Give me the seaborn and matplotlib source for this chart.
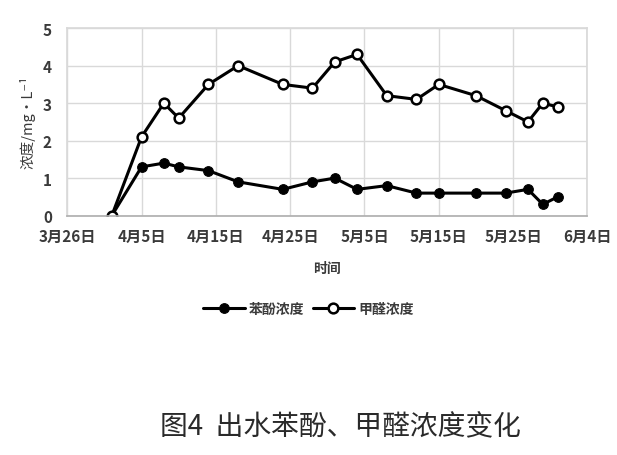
import matplotlib
matplotlib.use("Agg")
import matplotlib.pyplot as plt
import matplotlib.dates as mdates
from matplotlib.ticker import FuncFormatter
import seaborn as sns
import pandas as pd

dates = ["2019-04-01", "2019-04-05", "2019-04-08", "2019-04-10", "2019-04-14",
         "2019-04-18", "2019-04-24", "2019-04-28", "2019-05-01", "2019-05-04",
         "2019-05-08", "2019-05-12", "2019-05-15", "2019-05-20", "2019-05-24",
         "2019-05-27", "2019-05-29", "2019-05-31"]
phenol = [0, 1.3, 1.4, 1.3, 1.2, 0.9, 0.7, 0.9, 1.0, 0.7, 0.8, 0.6, 0.6, 0.6, 0.6, 0.7, 0.3, 0.5]
formaldehyde = [0, 2.1, 3.0, 2.6, 3.5, 4.0, 3.5, 3.4, 4.1, 4.3, 3.2, 3.1, 3.5, 3.2, 2.8, 2.5, 3.0, 2.9]
series_names = ["苯酚浓度", "甲醛浓度"]
yticks = [0, 1, 2, 3, 4, 5]

sns.set_theme(style="white")
plt.rcParams['font.family'] = ['Noto Sans CJK SC', 'DejaVu Sans']

df = pd.DataFrame({"date": pd.to_datetime(dates), "phenol": phenol, "formaldehyde": formaldehyde})

fig = plt.figure(figsize=(6.17, 4.56), dpi=100)
ax = fig.add_axes([0.109, 0.525, 0.843, 0.411])

sns.lineplot(data=df, x="date", y="phenol", ax=ax, color="black", linewidth=2.2,
             marker="o", markersize=7, markerfacecolor="black", markeredgecolor="black",
             label=series_names[0])
sns.lineplot(data=df, x="date", y="formaldehyde", ax=ax, color="black", linewidth=2.2,
             marker="o", markersize=7, markerfacecolor="white", markeredgecolor="black",
             markeredgewidth=1.8, label=series_names[1])

ax.set_ylim(0, 5)
ax.set_yticks(yticks)
ax.set_xlim(pd.Timestamp("2019-03-26"), pd.Timestamp("2019-06-04"))
xt = pd.date_range("2019-03-26", "2019-06-04", freq="10D")
ax.set_xticks(xt)
ax.xaxis.set_major_formatter(FuncFormatter(
    lambda v, p: f"{mdates.num2date(v).month}月{mdates.num2date(v).day}日"))

ax.grid(True, color="#d9d9d9", linewidth=1)
for s in ["left", "top", "right"]:
    ax.spines[s].set_color("#d9d9d9")
ax.spines["bottom"].set_color("#b0b0b0")
ax.tick_params(axis="both", length=0, labelsize=11, colors="#3a3a3a")
ax.tick_params(axis="x", pad=9)
ax.tick_params(axis="y", pad=11)
for lab in ax.get_xticklabels() + ax.get_yticklabels():
    lab.set_fontweight("bold")

ax.set_xlabel("时间", fontsize=10, color="#3a3a3a", labelpad=12, fontweight="bold")
ax.set_ylabel("浓度/mg·L⁻¹", fontsize=10.5, color="#3a3a3a", labelpad=5)

leg = ax.legend(loc="center", bbox_to_anchor=(0.5, 0.32), bbox_transform=fig.transFigure,
                ncol=2, frameon=False, handlelength=3.0, columnspacing=0.6,
                handletextpad=0.3, labelcolor="#3a3a3a",
                prop={"family": ['Noto Sans CJK SC', 'DejaVu Sans'], "size": 10, "weight": "bold"})

fig.text(0.551, 0.062, "图4  出水苯酚、甲醛浓度变化", ha="center", va="center",
         fontsize=20, color="#2a2a2a")

fig.savefig("out.png", dpi=100)
